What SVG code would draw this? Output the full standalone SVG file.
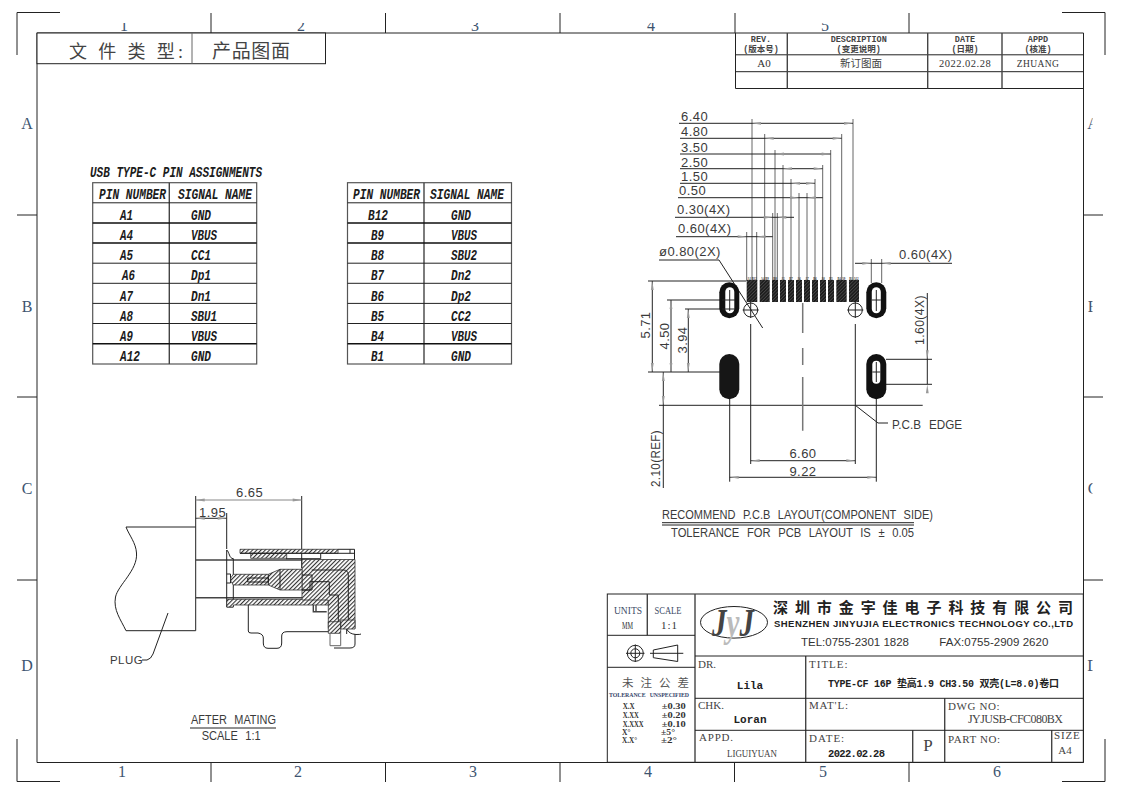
<svg xmlns="http://www.w3.org/2000/svg" width="1123" height="794" viewBox="0 0 1123 794">
<style>
text{font-family:"Liberation Serif","Noto Sans CJK SC",serif;fill:#333}
.d{font-family:"Liberation Sans","Noto Sans CJK SC",sans-serif;font-size:13px;letter-spacing:.45px;fill:#3a3a3a}
.w{font-family:"Liberation Sans","Noto Sans CJK SC",sans-serif;font-size:12.500px;word-spacing:5px;fill:#3a3a3a}
.m{font-family:"Liberation Mono","Noto Sans CJK SC",monospace;font-size:13px;font-weight:bold;fill:#222}
.i{font-family:"Liberation Mono",monospace;font-size:14px;font-weight:bold;font-style:italic;fill:#1c1c1c}
.b{font-family:"Liberation Sans","Noto Sans CJK SC",sans-serif;fill:#222}
.t{font-size:11px;fill:#444}
.s{font-size:8.5px;font-family:"Liberation Mono","Noto Sans CJK SC",monospace;font-weight:bold;fill:#444;text-anchor:middle}
.c{text-anchor:middle}
.f{font-size:16px;fill:#3d5470;text-anchor:middle}
.o{font-size:7.500px;font-weight:bold;fill:#333}
.l{stroke:#222;stroke-width:1;fill:none}
.g{stroke:#666;stroke-width:1;fill:none}
.k{stroke:#444;stroke-width:1.4;fill:none}
.h{fill:url(#hatch);stroke:#333;stroke-width:.8}
.p{fill:url(#dark)}
</style>
<defs>
<pattern id="hatch" width="3" height="3" patternUnits="userSpaceOnUse" patternTransform="rotate(45)"><rect width="3" height="3" fill="#fff"/><rect width="1.1" height="3" fill="#333"/></pattern>
<pattern id="dark" width="2.4" height="2.4" patternUnits="userSpaceOnUse" patternTransform="rotate(45)"><rect width="2.4" height="2.4" fill="#1d1d1d"/><rect width=".6" height="2.4" fill="#555"/></pattern>
<path id="a" d="M0 0L-9 -1.4L-9 1.4Z" fill="#999"/>
<clipPath id="topclip"><rect x="30" y="23" width="900" height="10"/></clipPath>
<clipPath id="rightclip"><rect x="1084" y="100" width="8.5" height="600"/></clipPath>
</defs>
<rect width="1123" height="794" fill="#fff"/>

<g id="frame">
<path class="l" d="M17 55V12.500H60M1062 12.500H1105V55M17 739V781.500H60M1062 781.500H1105V739"/>
<path class="l" d="M37 762.500H1083.500V33H37V762.500"/>
<path class="l" d="M17 215H37M17 397H37M17 580H37M1083.500 215H1103M1083.500 397H1103M1083.500 580H1103"/>
<path class="l" d="M211 13V33M385.500 13V33M560 13V33M735 13V33M909 13V33M211 762V782M385.500 762V782M560 762V782M734.500 762V782M909 762V782"/>
<g clip-path="url(#topclip)"><text class="f" x="124" y="31">1</text><text class="f" x="301" y="31">2</text><text class="f" x="475" y="31">3</text><text class="f" x="651" y="31">4</text><text class="f" x="825" y="31">5</text></g>
<text class="f" x="122" y="777">1</text><text class="f" x="298" y="777">2</text><text class="f" x="473" y="777">3</text><text class="f" x="648" y="777">4</text><text class="f" x="823" y="777">5</text><text class="f" x="997" y="777">6</text>
<text class="f" x="27" y="129">A</text><text class="f" x="27" y="312">B</text><text class="f" x="27" y="494">C</text><text class="f" x="27" y="671">D</text>
<g clip-path="url(#rightclip)"><text class="f" x="1093" y="129">A</text><text class="f" x="1093" y="312">B</text><text class="f" x="1093" y="494">C</text><text class="f" x="1093" y="671">D</text></g>
</g>

<g id="doc-type">
<rect x="37" y="33" width="288.500" height="30.700" fill="#fff" stroke="#222"/>
<path class="g" d="M192 33V63.700" stroke-width="1.500"/>
<text x="69" y="58" font-size="18" textLength="114" lengthAdjust="spacing" style="fill:#444">文 件 类 型:</text>
<text x="212" y="58" font-size="19" textLength="78" lengthAdjust="spacing" style="fill:#444">产品图面</text>
</g>

<g id="revision-table">
<path class="l" d="M735.500 33V88.500H1083.500M735.500 54.800H1083.500M735.500 71.700H1083.500"/>
<path class="k" d="M787.300 33V88.500M927.700 33V88.500M1002 33V88.500"/>
<text class="s" x="761" y="42">REV.</text><text class="s" x="761" y="52">(版本号)</text>
<text class="s" x="858.700" y="42">DESCRIPTION</text><text class="s" x="858.700" y="52">(变更说明)</text>
<text class="s" x="965" y="42">DATE</text><text class="s" x="965" y="52">(日期)</text>
<text class="s" x="1038" y="42">APPD</text><text class="s" x="1038" y="52">(核准)</text>
<text class="c" x="764" y="67" font-size="11">A0</text>
<text class="c" x="861" y="67" font-size="10.500" style="fill:#444">新订图面</text>
<text class="c" x="965" y="67" font-size="10.500" letter-spacing=".5">2022.02.28</text>
<text class="c" x="1038" y="67" font-size="9.500" letter-spacing=".4">ZHUANG</text>
</g>

<g id="pin-table-a">
<text class="i" x="90" y="177" textLength="172" lengthAdjust="spacingAndGlyphs">USB TYPE-C PIN ASSIGNMENTS</text>
<rect x="92.700" y="182.700" width="164" height="181.300" fill="none" stroke="#555" stroke-width="1.200"/>
<path class="k" d="M169.300 182.700V364"/>
<path class="l" d="M92.700 202.800H256.700M92.700 263.200H256.700M92.700 283.300H256.700M92.700 303.400H256.700M92.700 323.500H256.700"/>
<path d="M92.700 223H256.700M92.700 243.100H256.700M92.700 343.700H256.700" stroke="#111" stroke-width="1.500" fill="none"/>
<text class="i" x="99" y="199" textLength="67" lengthAdjust="spacingAndGlyphs">PIN NUMBER</text><text class="i" x="178" y="199" textLength="74" lengthAdjust="spacingAndGlyphs">SIGNAL NAME</text>
<text class="i" x="120" y="220" textLength="13" lengthAdjust="spacingAndGlyphs">A1</text><text class="i" x="191" y="220" textLength="20" lengthAdjust="spacingAndGlyphs">GND</text>
<text class="i" x="120" y="240" textLength="13" lengthAdjust="spacingAndGlyphs">A4</text><text class="i" x="191" y="240" textLength="26" lengthAdjust="spacingAndGlyphs">VBUS</text>
<text class="i" x="120" y="260" textLength="13" lengthAdjust="spacingAndGlyphs">A5</text><text class="i" x="191" y="260" textLength="20" lengthAdjust="spacingAndGlyphs">CC1</text>
<text class="i" x="122" y="280" textLength="13" lengthAdjust="spacingAndGlyphs">A6</text><text class="i" x="191" y="280" textLength="20" lengthAdjust="spacingAndGlyphs">Dp1</text>
<text class="i" x="120" y="301" textLength="13" lengthAdjust="spacingAndGlyphs">A7</text><text class="i" x="191" y="301" textLength="20" lengthAdjust="spacingAndGlyphs">Dn1</text>
<text class="i" x="120" y="321" textLength="13" lengthAdjust="spacingAndGlyphs">A8</text><text class="i" x="191" y="321" textLength="26" lengthAdjust="spacingAndGlyphs">SBU1</text>
<text class="i" x="120" y="341" textLength="13" lengthAdjust="spacingAndGlyphs">A9</text><text class="i" x="191" y="341" textLength="26" lengthAdjust="spacingAndGlyphs">VBUS</text>
<text class="i" x="120" y="361" textLength="20" lengthAdjust="spacingAndGlyphs">A12</text><text class="i" x="191" y="361" textLength="20" lengthAdjust="spacingAndGlyphs">GND</text>
</g>

<g id="pin-table-b">
<rect x="347.500" y="182.700" width="164" height="181.300" fill="none" stroke="#555" stroke-width="1.200"/>
<path class="k" d="M424 182.700V364"/>
<path class="l" d="M347.500 202.800H511.500M347.500 263.200H511.500M347.500 283.300H511.500M347.500 303.400H511.500M347.500 323.500H511.500"/>
<path d="M347.500 223H511.500M347.500 243.100H511.500M347.500 343.700H511.500" stroke="#111" stroke-width="1.500" fill="none"/>
<text class="i" x="353" y="199" textLength="67" lengthAdjust="spacingAndGlyphs">PIN NUMBER</text><text class="i" x="430" y="199" textLength="74" lengthAdjust="spacingAndGlyphs">SIGNAL NAME</text>
<text class="i" x="368" y="220" textLength="20" lengthAdjust="spacingAndGlyphs">B12</text><text class="i" x="451" y="220" textLength="20" lengthAdjust="spacingAndGlyphs">GND</text>
<text class="i" x="371" y="240" textLength="13" lengthAdjust="spacingAndGlyphs">B9</text><text class="i" x="451" y="240" textLength="26" lengthAdjust="spacingAndGlyphs">VBUS</text>
<text class="i" x="371" y="260" textLength="13" lengthAdjust="spacingAndGlyphs">B8</text><text class="i" x="451" y="260" textLength="26" lengthAdjust="spacingAndGlyphs">SBU2</text>
<text class="i" x="371" y="280" textLength="13" lengthAdjust="spacingAndGlyphs">B7</text><text class="i" x="451" y="280" textLength="20" lengthAdjust="spacingAndGlyphs">Dn2</text>
<text class="i" x="371" y="301" textLength="13" lengthAdjust="spacingAndGlyphs">B6</text><text class="i" x="451" y="301" textLength="20" lengthAdjust="spacingAndGlyphs">Dp2</text>
<text class="i" x="371" y="321" textLength="13" lengthAdjust="spacingAndGlyphs">B5</text><text class="i" x="451" y="321" textLength="20" lengthAdjust="spacingAndGlyphs">CC2</text>
<text class="i" x="371" y="341" textLength="13" lengthAdjust="spacingAndGlyphs">B4</text><text class="i" x="451" y="341" textLength="26" lengthAdjust="spacingAndGlyphs">VBUS</text>
<text class="i" x="371" y="361" textLength="13" lengthAdjust="spacingAndGlyphs">B1</text><text class="i" x="451" y="361" textLength="20" lengthAdjust="spacingAndGlyphs">GND</text>
</g>

<g id="pcb-layout">
<g id="pcb-dimensions">
<path class="g" d="M752 119V281M853 119V281M764.700 134V281M841.700 134V281M775 150V281M830.700 150V281M783 165V281M822.700 165V281M791 179V281M815 179V281M799 193V281M807 193V281M772.700 213V281M777.300 213V281M746.700 232V281M756.700 232V281M871.300 259V283M881.700 259V283"/>
<path class="l" d="M679 123.300H853M680 138.300H841.700M680 154H830.700M680 168.700H822.700M680 183.300H815M678 197.700H822.700M675 217.300H794M676 236.700H772.700M855 263.300H952M659 260H719L762.700 328"/>
<path class="l" d="M648 281H746M667 300H730M685 309H730M648 372H720M886 359.300H932M886 384.300H932M659 405.300H922.700"/>
<path class="l" d="M652.300 281V372M671 300V372M688.300 309V372M663.300 372V488M927.300 293V384.300M750.700 324V464M855.300 324V464M729.700 399V481.700M876.300 399V481.700M750.700 460.700H855.300M729.700 477.300H876.300"/>
<path class="l" d="M855.300 405.300L878 423H888"/>
<path d="M802.700 303V333M802.700 348V365M802.700 377V430.700" stroke="#777" stroke-width="1.500" fill="none"/>
<use href="#a" transform="translate(752 123.300) rotate(180)"/><use href="#a" transform="translate(853 123.300)"/>
<use href="#a" transform="translate(764.700 138.300) rotate(180)"/><use href="#a" transform="translate(841.700 138.300)"/>
<use href="#a" transform="translate(775 154) rotate(180)"/><use href="#a" transform="translate(830.700 154)"/>
<use href="#a" transform="translate(783 168.700) rotate(180)"/><use href="#a" transform="translate(822.700 168.700)"/>
<use href="#a" transform="translate(791 183.300) rotate(180)"/><use href="#a" transform="translate(815 183.300)"/>
<use href="#a" transform="translate(799 197.700)"/><use href="#a" transform="translate(807 197.700) rotate(180)"/>
<use href="#a" transform="translate(772.700 217.300)"/><use href="#a" transform="translate(777.300 217.300) rotate(180)"/>
<use href="#a" transform="translate(746.700 236.700)"/><use href="#a" transform="translate(756.700 236.700) rotate(180)"/>
<use href="#a" transform="translate(871.300 263.300)"/><use href="#a" transform="translate(881.700 263.300) rotate(180)"/>
<use href="#a" transform="translate(750.700 460.700) rotate(180)"/><use href="#a" transform="translate(855.300 460.700)"/>
<use href="#a" transform="translate(729.700 477.300) rotate(180)"/><use href="#a" transform="translate(876.300 477.300)"/>
<use href="#a" transform="translate(652.300 281) rotate(-90)"/><use href="#a" transform="translate(652.300 372) rotate(90)"/>
<use href="#a" transform="translate(671 300) rotate(-90)"/><use href="#a" transform="translate(671 372) rotate(90)"/>
<use href="#a" transform="translate(688.300 309) rotate(-90)"/><use href="#a" transform="translate(688.300 372) rotate(90)"/>
<use href="#a" transform="translate(663.300 372) rotate(-90)"/><use href="#a" transform="translate(663.300 405) rotate(90)"/>
<use href="#a" transform="translate(927.300 359.300) rotate(90)"/><use href="#a" transform="translate(927.300 384.300) rotate(-90)"/>
<text class="d" x="681" y="121">6.40</text><text class="d" x="681" y="136">4.80</text><text class="d" x="681" y="152">3.50</text><text class="d" x="681" y="166.500">2.50</text><text class="d" x="681" y="181">1.50</text><text class="d" x="679" y="195">0.50</text>
<text class="d" x="677" y="213.500">0.30(4X)</text><text class="d" x="678" y="232.500">0.60(4X)</text>
<text class="d" x="659" y="256">ø0.80(2X)</text><text class="d" x="899" y="259">0.60(4X)</text>
<text class="d" text-anchor="middle" transform="translate(650 325) rotate(-90)">5.71</text>
<text class="d" text-anchor="middle" transform="translate(669 336) rotate(-90)">4.50</text>
<text class="d" text-anchor="middle" transform="translate(686.500 340) rotate(-90)">3.94</text>
<text class="d" text-anchor="middle" textLength="57" lengthAdjust="spacingAndGlyphs" transform="translate(660 458.500) rotate(-90)">2.10(REF)</text>
<text class="d" text-anchor="middle" textLength="50" lengthAdjust="spacingAndGlyphs" transform="translate(924 320) rotate(-90)">1.60(4X)</text>
<text class="d" text-anchor="middle" x="803" y="458">6.60</text><text class="d" text-anchor="middle" x="803" y="476">9.22</text>
<text class="w" x="892" y="429" textLength="70" lengthAdjust="spacingAndGlyphs">P.C.B EDGE</text>
<text class="w" x="662" y="519" textLength="271" lengthAdjust="spacingAndGlyphs">RECOMMEND P.C.B LAYOUT(COMPONENT SIDE)</text>
<path class="l" d="M662 522.700H914M662 525H914"/>
<text class="w" x="671" y="537" textLength="243" lengthAdjust="spacingAndGlyphs">TOLERANCE FOR PCB LAYOUT IS ± 0.05</text>
</g>
<g id="pcb-pads">
<rect class="p" x="746.700" y="280" width="10.600" height="22"/><rect class="p" x="759.700" y="280" width="10" height="22"/><rect class="p" x="772" y="280" width="6" height="22"/><rect class="p" x="780" y="280" width="6" height="22"/><rect class="p" x="788" y="280" width="6" height="22"/><rect class="p" x="796" y="280" width="6" height="22"/><rect class="p" x="804" y="280" width="6" height="22"/><rect class="p" x="812" y="280" width="6" height="22"/><rect class="p" x="820" y="280" width="6" height="22"/><rect class="p" x="828" y="280" width="6" height="22"/><rect class="p" x="836.300" y="280" width="10.400" height="22"/><rect class="p" x="849" y="280" width="10" height="22"/>
<g font-size="3" font-family="Liberation Sans, sans-serif" font-weight="bold" text-anchor="middle">
<text x="752" y="279.500">A1 B12</text><text x="764.700" y="279.500">A4 B9</text><text x="775" y="279.500">B8</text><text x="783" y="279.500">A5</text><text x="791" y="279.500">B7</text><text x="799" y="279.500">A6</text><text x="807" y="279.500">A7</text><text x="815" y="279.500">B6</text><text x="823" y="279.500">A8</text><text x="831" y="279.500">B5</text><text x="841.500" y="279.500">B4 A9</text><text x="854" y="279.500">B1 A12</text>
</g>
</g>
<g id="pcb-slots">
<rect x="719.300" y="282.300" width="20" height="36" rx="10" fill="#111"/><rect x="725.300" y="287.300" width="9" height="26" rx="4.500" fill="#fff"/>
<path class="l" d="M729.700 290V311M722 300H735M722 309H735"/>
<rect x="866.300" y="282.300" width="20" height="36" rx="10" fill="#111"/><rect x="871.800" y="287.300" width="9" height="26" rx="4.500" fill="#fff"/>
<path class="l" d="M876.300 290V311M871.800 300H880.800"/>
<rect x="719.300" y="354" width="20" height="45.300" rx="10" fill="#161616"/>
<rect x="866.300" y="354" width="20" height="45.300" rx="10" fill="#111"/><rect x="872.300" y="360.700" width="8" height="23" rx="4" fill="#fff"/>
<path class="l" d="M876.300 362V382M872.300 372H880.300"/>
<circle class="l" cx="750.700" cy="310" r="7"/><path class="l" d="M742.700 310H758.700M750.700 302V318"/>
<circle class="l" cx="855.300" cy="310" r="7"/><path class="l" d="M847.300 310H863.300M855.300 302V318"/>
</g>
</g>

<g id="side-view">
<g id="plug">
<path class="l" d="M126 527H195.700V630.700H126C121 620 113 610 115.500 597C118 585 138 570 136.500 553C136 543 129 535 126 527Z"/>
<path class="k" d="M195.700 560H302M195.700 597.700H302"/>
<path class="l" d="M195.700 496V527M301.700 496V568M195.700 518.300H226.700M226.700 513V549"/>
<path d="M195.700 500H301.700" stroke="#888" fill="none"/>
<use href="#a" transform="translate(195.700 500) rotate(180)"/><use href="#a" transform="translate(301.700 500)"/>
<use href="#a" transform="translate(195.700 518.300) rotate(180)"/><use href="#a" transform="translate(226.700 518.300)"/>
<text class="d" x="236" y="497">6.65</text><text class="d" x="199" y="516.500">1.95</text>
<text class="d" x="110" y="664" style="font-size:11.500px">PLUG</text>
<path class="l" d="M142 660H147Q151 659 153 654L168 613"/>
</g>
<g id="connector">
<path class="h" d="M240 549.300H338V553.300H240ZM250.700 553.300H286.700V558.300H250.700Z"/>
<path class="l" d="M338 549.300H354.500V559.500M240 553.300H354.500M286 558.700H320.700M320.700 553.300V558.700M350 549.300V553.300M233.300 558.700C229 558.500 229.500 552 226.700 550"/>
<path class="l" d="M233.300 558.500V599.300M226.700 550V607H233.300V599.300M226.700 574H230.500V583H226.700"/>
<path class="h" d="M226.700 599.300H328.300V605H233.300V607H226.700Z"/>
<path class="h" d="M302 559.500H355V628.500H328.300V600H302Z"/>
<path class="l" d="M311.700 570H343.300Q348.300 570 348.300 575V623H338.300V595H329.300V581.700H310V590H302"/>
<path class="h" d="M230.700 578L233.300 574.300H268.300L280 569.300H302V590H280L268.300 585H233.300L230.700 581Z"/>
<path class="l" d="M280 569.300V590M268.300 574.300V585M247.700 578H268.300V582H247.700ZM302 575H312V590H302"/>
<path class="l" d="M248.300 605V631Q248.300 633 251 633H258Q263.300 634 263.300 638V643Q263.300 648.300 268 648.300H277Q281.700 648.300 281.700 643V636Q281.700 631.700 287 631.700H328.300"/>
<path class="k" d="M313.300 605V611.700H326.700M316 605V611.700"/>
<path class="h" d="M328.300 621.700H340.700V633.300H328.300ZM340.700 620H355V629H340.700Z"/>
<path class="g" d="M330 633.300V645.700H340.700V633.300"/>
<path class="l" d="M346.700 629Q349 634 356 634.500Q361 634.500 361 634M346.700 629V634M355 634V644Q355 648 350 648H334"/>
</g>
<text class="w" x="191" y="723.500" textLength="85" lengthAdjust="spacingAndGlyphs">AFTER MATING</text>
<path class="l" d="M190 728H276"/>
<text class="w" x="201.700" y="740" textLength="59" lengthAdjust="spacingAndGlyphs">SCALE 1:1</text>
</g>

<g id="title-block">
<rect x="607.300" y="594" width="476" height="168.300" fill="none" stroke="#222"/>
<path class="k" d="M647.300 594V635.300M695 594V762.300M805.700 656V762.300M944.700 698.300V762.300M912.700 730.300V762.300M1051.700 730.300V762.300"/>
<path class="l" d="M607.300 635.300H695M607.300 667.300H695M695 656H1083.300M695 698.300H1083.300M695 730.300H1083.300"/>
<text x="614" y="614" font-size="11" textLength="28" lengthAdjust="spacingAndGlyphs" style="fill:#3d4c66">UNITS</text>
<text x="622" y="629" font-size="11" textLength="11" lengthAdjust="spacingAndGlyphs">MM</text>
<text x="654.500" y="614" font-size="11" textLength="27" lengthAdjust="spacingAndGlyphs" style="fill:#3d4c66">SCALE</text>
<text class="c" x="669.500" y="629" font-size="11" letter-spacing="1">1:1</text>
<g id="gdt-symbols">
<circle class="l" cx="635.300" cy="653.300" r="8"/><circle class="l" cx="635.300" cy="653.300" r="4.500"/><path class="l" d="M626 653.300H644.500M635.300 644.500V662"/>
<path class="l" d="M653.300 650L677.700 645V661.500L653.300 657.700ZM650 653.300H683.300"/>
</g>
<text x="622" y="686.500" font-size="11.500" textLength="67" lengthAdjust="spacing" style="fill:#555">未 注 公 差</text>
<text x="609" y="696.700" font-size="7" font-weight="bold" word-spacing="3" textLength="80" lengthAdjust="spacingAndGlyphs" style="fill:#34446a">TOLERANCE UNSPECIFIED</text>
<g>
<text class="o" x="622.700" y="708.500" textLength="12" lengthAdjust="spacingAndGlyphs">X.X</text><text class="o" x="622.700" y="717.500" textLength="16" lengthAdjust="spacingAndGlyphs">X.XX</text><text class="o" x="622.700" y="726.500" textLength="21" lengthAdjust="spacingAndGlyphs">X.XXX</text><text class="o" x="622" y="734.500">X°</text><text class="o" x="622" y="743" textLength="15" lengthAdjust="spacingAndGlyphs">X.X°</text>
<text class="o" x="661.700" y="708.500" textLength="24" lengthAdjust="spacingAndGlyphs">±0.30</text><text class="o" x="661.700" y="717.500" textLength="24" lengthAdjust="spacingAndGlyphs">±0.20</text><text class="o" x="661.700" y="726.500" textLength="24" lengthAdjust="spacingAndGlyphs">±0.10</text><text class="o" x="661" y="734.500" textLength="14" lengthAdjust="spacingAndGlyphs">±5°</text><text class="o" x="661" y="743" textLength="16" lengthAdjust="spacingAndGlyphs">±2°</text>
</g>
<g id="logo">
<ellipse class="l" cx="734" cy="622.300" rx="33.500" ry="15.800"/>
<text x="712" y="636" font-size="40" font-weight="bold" font-style="italic" font-family="Liberation Sans, sans-serif" textLength="42" lengthAdjust="spacingAndGlyphs"><tspan style="fill:#444">J</tspan><tspan style="fill:#bbb">y</tspan><tspan style="fill:#444">J</tspan></text>
</g>
<text class="b" x="773" y="613" font-size="15" font-weight="bold" textLength="300" lengthAdjust="spacing">深 圳 市 金 宇 佳 电 子 科 技 有 限 公 司</text>
<text class="b" x="774" y="626.700" font-size="9.500" font-weight="bold" textLength="299" lengthAdjust="spacing">SHENZHEN JINYUJIA ELECTRONICS TECHNOLOGY CO.,LTD</text>
<text class="b" x="801" y="645.700" font-size="11.500" textLength="108" lengthAdjust="spacing" style="fill:#333">TEL:0755-2301 1828</text>
<text class="b" x="939.300" y="645.700" font-size="11.500" textLength="109" lengthAdjust="spacing" style="fill:#333">FAX:0755-2909 2620</text>
<text class="t" x="698" y="668">DR.</text><text class="m c" x="750" y="689" style="font-size:11px">Lila</text>
<text class="t" x="698" y="709">CHK.</text><text class="m c" x="750" y="723" style="font-size:11px">Loran</text>
<text class="t" x="699" y="740.700" letter-spacing=".8">APPD.</text><text class="t" x="727" y="756.700" textLength="50" lengthAdjust="spacingAndGlyphs" style="font-size:10px">LIGUIYUAN</text>
<text class="t" x="809" y="668" letter-spacing="1">TITLE:</text>
<text class="m" x="828" y="686.700" textLength="231" lengthAdjust="spacing" style="font-size:10px">TYPE-CF 16P 垫高1.9 CH3.50 双壳(L=8.0)卷口</text>
<text class="t" x="809" y="709" letter-spacing=".8">MAT'L:</text>
<text class="t" x="809" y="741.700" letter-spacing="1">DATE:</text><text class="m" x="828" y="756.700" textLength="57" lengthAdjust="spacing" style="font-size:10.500px">2022.02.28</text>
<text class="c" x="928" y="751" font-size="17" style="fill:#444">P</text>
<text class="t" x="948" y="710" letter-spacing=".6">DWG NO:</text>
<text class="t" x="968" y="722.700" textLength="95" lengthAdjust="spacing" style="font-size:12px">JYJUSB-CFC080BX</text>
<text class="t" x="948" y="742.700" letter-spacing=".6">PART  NO:</text>
<text class="t c" x="1067.300" y="739" letter-spacing=".8">SIZE</text><text class="t c" x="1065" y="754">A4</text>
</g>
</svg>
